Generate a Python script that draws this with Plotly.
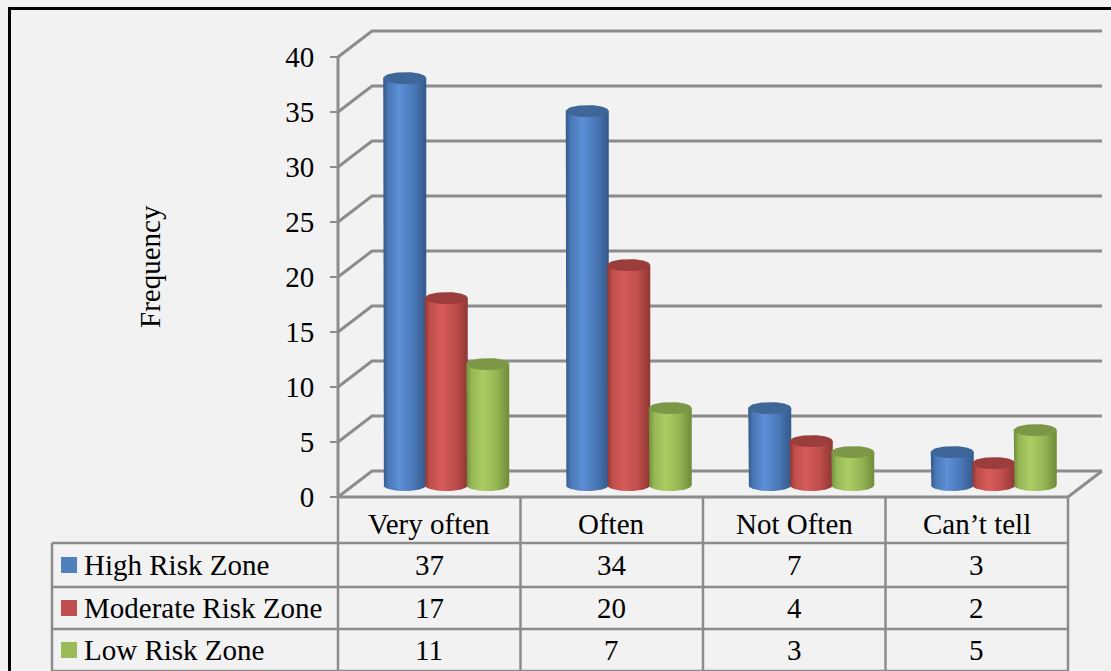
import numpy as np
import plotly.graph_objects as go

# ---- data -------------------------------------------------------------
categories = ["Very often", "Often", "Not Often", "Can\u2019t tell"]
series_names = ["High Risk Zone", "Moderate Risk Zone", "Low Risk Zone"]
high_risk = [37, 34, 7, 3]
moderate_risk = [17, 20, 4, 2]
low_risk = [11, 7, 3, 5]
y_ticks = [0, 5, 10, 15, 20, 25, 30, 35, 40]

series_values = [high_risk, moderate_risk, low_risk]

# ---- styling ----------------------------------------------------------
FONT = "Liberation Serif"
FS = 29
BG = "#f2f2f2"
GRID = "#8c8c8c"
legend_colors = ["#4f81bd", "#c0504d", "#9bbb59"]
# (edge, highlight, mid) shades for the cylinder bodies and the cap colour
body_shades = [
    ("#35598a", "#5c8fd6", "#4a78b8", "#3e6698"),
    ("#8e3634", "#d65c59", "#c04e4b", "#9a3d3b"),
    ("#6f8c38", "#abcd63", "#95b654", "#7c9846"),
]

W_PX, H_PX = 1111, 671
X_UNIT = 182.5      # px per category
Y_UNIT = 11.0       # px per frequency unit
X0_PX, Y0_PX = 338, 497   # front-left corner of the floor
DX = 34 / X_UNIT    # depth offset of the back wall
DY = 26 / Y_UNIT

x_range = [-X0_PX / X_UNIT, (W_PX - X0_PX) / X_UNIT]
y_range = [-(H_PX - Y0_PX) / Y_UNIT, Y0_PX / Y_UNIT]


def ypx(p):
    return (Y0_PX - p) / Y_UNIT


def xpx(p):
    return (p - X0_PX) / X_UNIT


fig = go.Figure()


def line(xs, ys, color=GRID, width=3):
    fig.add_trace(go.Scatter(x=xs, y=ys, mode="lines",
                             line=dict(color=color, width=width),
                             hoverinfo="skip", showlegend=False))


# ---- walls and floor --------------------------------------------------
n_cat = len(categories)
for v in y_ticks:
    line([0, DX, n_cat + DX], [v, v + DY, v + DY])
line([0, 0], [0, max(y_ticks)])
line([0, n_cat, n_cat + DX], [0, 0, DY])

# ---- cylinders --------------------------------------------------------
r = 21.5 / X_UNIT
step = 41.5 / X_UNIT
ry = 6 / Y_UNIT
base = DY / 2 - 0.1
t = np.linspace(0, np.pi, 40)

for s, vals in enumerate(series_values):
    edge, hi, mid, cap = body_shades[s]
    for c, v in enumerate(vals):
        cx = c + 0.5 + DX / 2 + (s - 1) * step
        top = base + v
        # body: straight sides, front half-ellipse at the base
        bx = np.concatenate([[cx - r], cx - r * np.cos(t), [cx + r, cx - r]])
        by = np.concatenate([[top], base - ry * np.sin(t), [top, top]])
        fig.add_trace(go.Scatter(
            x=bx, y=by, mode="lines", fill="toself", line=dict(width=0),
            fillgradient=dict(type="horizontal",
                              colorscale=[[0, edge], [0.12, mid], [0.38, hi],
                                          [0.7, mid], [1, edge]]),
            hoverinfo="skip", showlegend=False))
        # cap ellipse
        a = np.linspace(0, 2 * np.pi, 60)
        fig.add_trace(go.Scatter(
            x=cx + r * np.cos(a), y=top + ry * np.sin(a), mode="lines",
            fill="toself", fillcolor=cap, line=dict(width=0),
            hoverinfo="skip", showlegend=False))

# ---- data table -------------------------------------------------------
row_edges = [ypx(497), ypx(543), ypx(587), ypx(629), ypx(671)]
legend_left = xpx(52)
for i in range(n_cat + 1):
    line([i, i], [row_edges[0], row_edges[-1]], width=2.5)
line([legend_left, legend_left], [row_edges[1], row_edges[-1]], width=2.5)
for yb in row_edges[1:]:
    line([legend_left, n_cat], [yb, yb], width=2.5)

annotations = []
for i, cat in enumerate(categories):
    annotations.append(dict(x=i + 0.5, y=ypx(524),
                            text=cat, showarrow=False,
                            font=dict(family=FONT, size=FS, color="black")))

for s, (name, vals) in enumerate(zip(series_names, series_values)):
    ymid = (row_edges[s + 1] + row_edges[s + 2]) / 2
    fig.add_trace(go.Scatter(
        x=[xpx(69)], y=[ymid], mode="markers",
        marker=dict(symbol="square", size=16, color=legend_colors[s]),
        hoverinfo="skip", showlegend=False))
    annotations.append(dict(x=xpx(82), y=ymid, text=name, showarrow=False,
                            xanchor="left",
                            font=dict(family=FONT, size=FS, color="black")))
    for c, v in enumerate(vals):
        annotations.append(dict(x=c + 0.5, y=ymid, text=str(v),
                                showarrow=False,
                                font=dict(family=FONT, size=FS, color="black")))

annotations.append(dict(x=xpx(150), y=ypx(267), text="Frequency",
                        textangle=-90, showarrow=False,
                        font=dict(family=FONT, size=FS, color="black")))

fig.update_layout(
    width=W_PX, height=H_PX,
    margin=dict(l=0, r=0, t=0, b=0),
    paper_bgcolor=BG, plot_bgcolor=BG,
    xaxis=dict(range=x_range, visible=False, fixedrange=True),
    yaxis=dict(range=y_range, anchor="free", position=X0_PX / W_PX,
               tickvals=y_ticks, ticktext=[str(v) for v in y_ticks],
               ticks="outside", ticklen=8, tickwidth=2, tickcolor=GRID,
               ticklabelstandoff=10,
               tickfont=dict(family=FONT, size=FS, color="black"),
               showgrid=False, zeroline=False, showline=False,
               fixedrange=True),
    annotations=annotations,
    shapes=[dict(type="rect", xref="paper", yref="paper",
                 x0=9.5 / W_PX, x1=1.1, y0=-0.1, y1=1 - 8.5 / H_PX,
                 line=dict(color="black", width=3))],
)

fig.write_html("out.html")
